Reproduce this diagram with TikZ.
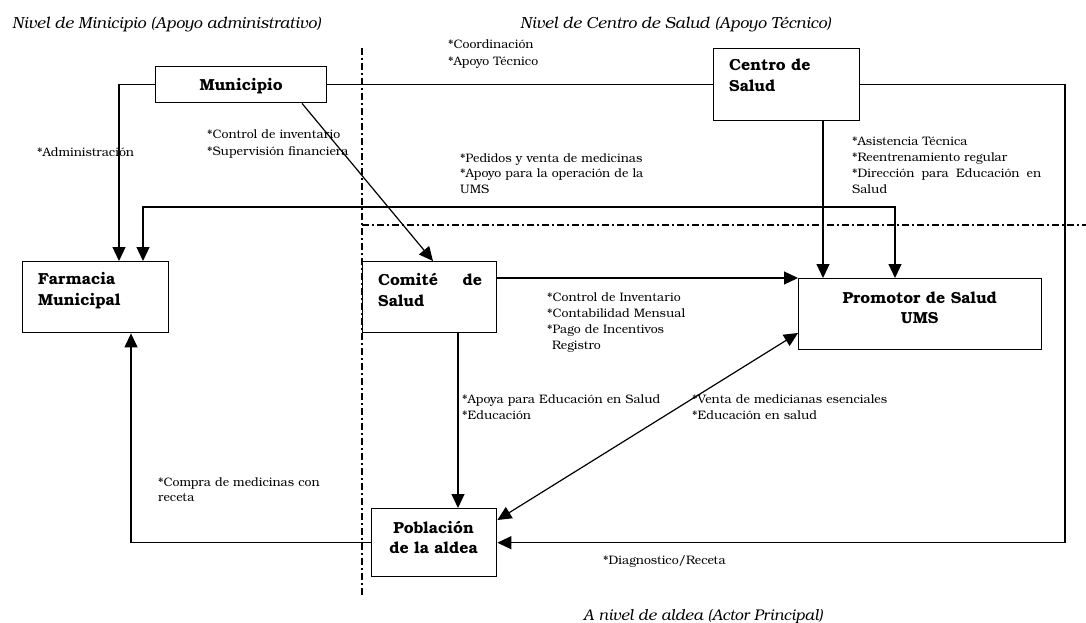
\documentclass[tikz,border=0pt]{standalone}
\usepackage{fontspec}
\setmainfont{TeX Gyre Bonum}
\usetikzlibrary{arrows.meta,calc}

\begin{document}
\begin{tikzpicture}[x=1pt,y=-1pt,
  box/.style={draw,line width=1.4pt,anchor=north west,inner sep=0pt},
  boxtext/.style={anchor=base west,inner sep=0pt,align=left,
    font=\fontsize{16}{21}\selectfont\bfseries},
  note/.style={anchor=base west,inner sep=0pt,align=left,
    font=\fontsize{12.3}{16.3}\selectfont},
  level/.style={anchor=base west,inner sep=0pt,
    font=\fontsize{16}{18}\selectfont\itshape},
  link/.style={line width=1.2pt},
  arr/.style={link,-{Triangle[length=14pt,width=13pt]}},
  arrtwo/.style={link,{Triangle[length=14pt,width=13pt]}-{Triangle[length=14pt,width=13pt]}},
  border/.style={line width=1.1pt,dash pattern=on 7pt off 3pt on 2pt off 3pt}]

\useasboundingbox (0,0) rectangle (1086,623);

% level headings
\node[level] (lvmun) at (12,29) {Nivel de Minicipio (Apoyo administrativo)};
\node[level] (lvcen) at (520,29) {Nivel de Centro de Salud (Apoyo Técnico)};
\node[level,font=\fontsize{15.5}{18}\selectfont\itshape] (lvald) at (583,620) {A nivel de aldea (Actor Principal)};

% level borders
\coordinate (vtop) at (362,48);
\coordinate (vbot) at (362,597);
\coordinate (hleft) at (362,225);
\coordinate (hright) at (1086,225);
\draw[border] (vtop) -- (vbot);
\draw[border] (hleft) -- (hright);

% actors
\node[box,minimum width=171pt,minimum height=36pt] (mun) at (155,66) {};
\node[font=\fontsize{16}{20}\selectfont\bfseries,inner sep=0pt] (munt) at ($(mun.center)+(0,1)$) {Municipio};

\node[box,minimum width=146pt,minimum height=72pt] (cen) at (713,48) {};
\node[boxtext,text width=125pt] (cent) at ($(cen.north west)+(16,22.5)$) {Centro de\\Salud};

\node[box,minimum width=146pt,minimum height=71pt] (far) at (22,261) {};
\node[boxtext,text width=125pt] (fart) at ($(far.north west)+(16,23.5)$) {Farmacia\\Municipal};

\node[box,minimum width=134pt,minimum height=71pt] (com) at (362,261) {};
\node[boxtext,text width=104pt] (comt) at ($(com.north west)+(16,24.5)$) {Comité\hfill de\\Salud};

\node[box,minimum width=243pt,minimum height=71pt] (pro) at (798,278) {};
\node[boxtext,text width=243pt,align=center,font=\fontsize{16}{20}\selectfont\bfseries] (prot) at ($(pro.north west)+(0,25.5)$) {Promotor de Salud\\UMS};

\node[box,minimum width=125pt,minimum height=68pt] (pob) at (371,508) {};
\node[boxtext,text width=125pt,align=center,font=\fontsize{16}{20}\selectfont\bfseries] (pobt) at ($(pob.north west)+(0,25.5)$) {Población\\de la aldea};

% connectors
\coordinate (farin) at ($(far.north west)+(97,0)$);
\draw[arr] (mun.west) -| (farin);

\coordinate (farback) at ($(far.north west)+(121,0)$);
\coordinate (bus) at (500,207);
\coordinate (proin) at ($(pro.north west)+(97,0)$);
\draw[arrtwo] (farback) |- (bus) -| (proin);

\draw[link] (mun.east) -- (cen.west);

\coordinate (rt) at (1065,300);
\draw[arr] (cen.east) -| (rt) |- (pob.east);

\coordinate (cenout) at ($(cen.south west)+(110,0)$);
\draw[arr] (cenout) -- (cenout |- pro.north);

\coordinate (munout) at ($(mun.south west)+(147,0)$);
\coordinate (comin) at ($(com.north west)+(71,0)$);
\draw[arr] (munout) -- (comin);

\coordinate (comout) at ($(com.north east)+(0,17)$);
\draw[arr] (comout) -- (pro.north west);

\coordinate (comdown) at ($(com.south west)+(96,0)$);
\draw[arr] (comdown) -- (comdown |- pob.north);

\coordinate (pobside) at ($(pob.north east)+(0,12)$);
\coordinate (proside) at ($(pro.north west)+(0,55)$);
\draw[arrtwo] (pobside) -- (proside);

\coordinate (farup) at ($(far.south west)+(109,0)$);
\draw[arr] (pob.west) -| (farup);

% relation notes
\node[note,text width=120pt] (nadm) at (37,156) {*Administración};
\node[note,text width=160pt,font=\fontsize{12.3}{17}\selectfont] (ninv) at (207,139) {*Control de inventario\\{*}Supervisión financiera};
\node[note,text width=160pt,font=\fontsize{12.3}{17}\selectfont] (ncoo) at (448,49) {*Coordinación\\{*}Apoyo Técnico};
\node[note,text width=220pt,font=\fontsize{12.3}{15.5}\selectfont] (nped) at (460,162) {*Pedidos y venta de medicinas\\{*}Apoyo para la operación de la\\UMS};
\node[note,text width=189pt,font=\fontsize{12.3}{15.8}\selectfont] (nasi) at (852,146) {*Asistencia Técnica\\{*}Reentrenamiento regular\\{*}Dirección\hfill para\hfill Educación\hfill en\\Salud};
\node[note,text width=200pt,font=\fontsize{12.3}{16}\selectfont] (nctl) at (547,301) {*Control de Inventario\\{*}Contabilidad Mensual\\{*}Pago de Incentivos\\\hspace*{5pt}Registro};
\node[note,text width=220pt] (napo) at (462,403) {*Apoya para Educación en Salud\\{*}Educación};
\node[note,text width=220pt] (nven) at (692,403) {*Venta de medicianas esenciales\\{*}Educación en salud};
\node[note,text width=200pt,font=\fontsize{12.3}{15.5}\selectfont] (ncom) at (158,486) {*Compra de medicinas con\\receta};
\node[note,text width=160pt] (ndia) at (603,564) {*Diagnostico/Receta};

\end{tikzpicture}
\end{document}
